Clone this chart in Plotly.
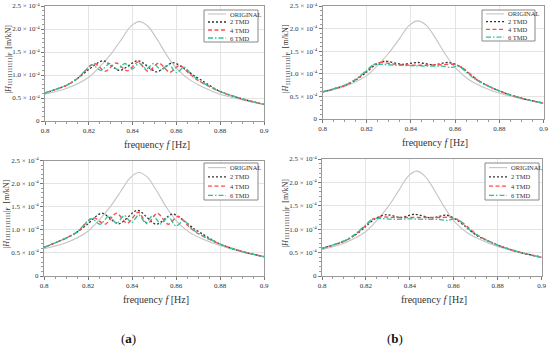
import plotly.graph_objects as go

# ---------------- data (response amplitude in units of 1e-4 m/kN) ----------------
SERIES_NAMES = ["ORIGINAL", "2 TMD", "4 TMD", "6 TMD"]
X_TICKS = [0.8, 0.82, 0.84, 0.86, 0.88, 0.9]
X_TICK_LABELS = ["0.8", "0.82", "0.84", "0.86", "0.88", "0.9"]
Y_TICKS = [0, 0.5, 1.0, 1.5, 2.0, 2.5]
Y_TICK_LABELS = ["0", "0.5 × 10<sup>-4</sup>", "1.0 × 10<sup>-4</sup>", "1.5 × 10<sup>-4</sup>",
                 "2.0 × 10<sup>-4</sup>", "2.5 × 10<sup>-4</sup>"]
PANEL_LABELS = ["(<b>a</b>)", "(<b>b</b>)"]

ORIG_F = [0.800, 0.810, 0.820, 0.825, 0.830, 0.835, 0.839, 0.843, 0.847, 0.851, 0.856, 0.861, 0.866, 0.872, 0.880, 0.890, 0.900]
ORIG_TL = [0.58, 0.71, 0.95, 1.18, 1.45, 1.78, 2.05, 2.16, 2.06, 1.79, 1.40, 1.10, 0.90, 0.74, 0.58, 0.46, 0.36]
ORIG_TR = [0.59, 0.72, 0.96, 1.19, 1.46, 1.79, 2.06, 2.17, 2.07, 1.80, 1.40, 1.09, 0.88, 0.72, 0.57, 0.45, 0.35]
ORIG_BL = [0.59, 0.72, 0.97, 1.21, 1.49, 1.84, 2.12, 2.24, 2.14, 1.86, 1.46, 1.15, 0.95, 0.80, 0.66, 0.52, 0.41]
ORIG_BR = [0.56, 0.70, 0.95, 1.19, 1.47, 1.83, 2.12, 2.24, 2.13, 1.85, 1.45, 1.13, 0.93, 0.78, 0.63, 0.50, 0.39]

# top-left
TMD2_TL_F = [0.800, 0.810, 0.815, 0.820, 0.8265, 0.834, 0.8425, 0.851, 0.8585, 0.864, 0.868, 0.872, 0.880, 0.890, 0.900]
TMD2_TL = [0.61, 0.78, 0.93, 1.12, 1.31, 1.10, 1.31, 1.07, 1.27, 1.12, 0.99, 0.87, 0.64, 0.48, 0.36]
TMD4_TL_F = [0.800, 0.810, 0.815, 0.8225, 0.8275, 0.8325, 0.8375, 0.8425, 0.847, 0.852, 0.857, 0.8615, 0.866, 0.870, 0.880, 0.890, 0.900]
TMD4_TL = [0.61, 0.78, 0.93, 1.25, 1.08, 1.26, 1.09, 1.28, 1.08, 1.26, 1.06, 1.21, 1.02, 0.88, 0.64, 0.48, 0.36]
TMD6_TL_F = [0.800, 0.810, 0.815, 0.8215, 0.8255, 0.8295, 0.833, 0.8365, 0.8398, 0.843, 0.8463, 0.8495, 0.853, 0.8565, 0.860, 0.8635, 0.867, 0.871, 0.880, 0.890, 0.900]
TMD6_TL = [0.61, 0.78, 0.93, 1.22, 1.10, 1.25, 1.12, 1.25, 1.13, 1.26, 1.13, 1.25, 1.11, 1.23, 1.05, 1.17, 1.00, 0.86, 0.64, 0.48, 0.36]

# top-right
TMD2_TR_F = [0.800, 0.810, 0.815, 0.820, 0.824, 0.828, 0.836, 0.843, 0.850, 0.857, 0.862, 0.866, 0.870, 0.880, 0.890, 0.900]
TMD2_TR = [0.60, 0.74, 0.86, 1.04, 1.20, 1.28, 1.21, 1.25, 1.20, 1.25, 1.17, 1.02, 0.86, 0.62, 0.46, 0.35]
TMD4_TR_F = [0.800, 0.810, 0.815, 0.820, 0.8235, 0.8265, 0.833, 0.840, 0.847, 0.854, 0.859, 0.863, 0.867, 0.871, 0.880, 0.890, 0.900]
TMD4_TR = [0.60, 0.74, 0.87, 1.06, 1.21, 1.25, 1.21, 1.19, 1.19, 1.20, 1.21, 1.14, 0.99, 0.84, 0.62, 0.46, 0.35]
TMD6_TR_F = [0.800, 0.810, 0.815, 0.820, 0.823, 0.826, 0.833, 0.840, 0.847, 0.854, 0.858, 0.8615, 0.865, 0.869, 0.880, 0.890, 0.900]
TMD6_TR = [0.60, 0.75, 0.88, 1.08, 1.20, 1.21, 1.19, 1.18, 1.17, 1.17, 1.14, 1.17, 1.04, 0.88, 0.62, 0.46, 0.35]

# bottom-left
TMD2_BL_F = [0.800, 0.810, 0.815, 0.820, 0.8262, 0.834, 0.8425, 0.851, 0.8585, 0.864, 0.868, 0.872, 0.880, 0.890, 0.900]
TMD2_BL = [0.62, 0.82, 0.95, 1.13, 1.36, 1.13, 1.42, 1.12, 1.34, 1.18, 1.03, 0.91, 0.69, 0.53, 0.42]
TMD4_BL_F = [0.800, 0.810, 0.815, 0.8225, 0.8277, 0.833, 0.8378, 0.8428, 0.847, 0.8515, 0.8565, 0.861, 0.866, 0.870, 0.880, 0.890, 0.900]
TMD4_BL = [0.62, 0.82, 0.95, 1.26, 1.12, 1.36, 1.14, 1.38, 1.13, 1.36, 1.12, 1.29, 1.06, 0.92, 0.69, 0.53, 0.42]
TMD6_BL_F = [0.800, 0.810, 0.815, 0.8215, 0.8255, 0.8295, 0.833, 0.8365, 0.8398, 0.843, 0.8463, 0.8495, 0.853, 0.8565, 0.860, 0.8635, 0.867, 0.871, 0.880, 0.890, 0.900]
TMD6_BL = [0.62, 0.82, 0.95, 1.24, 1.12, 1.30, 1.14, 1.31, 1.15, 1.32, 1.15, 1.31, 1.13, 1.28, 1.08, 1.20, 1.03, 0.90, 0.69, 0.53, 0.42]

# bottom-right
TMD2_BR_F = [0.800, 0.810, 0.815, 0.820, 0.824, 0.8293, 0.836, 0.8422, 0.850, 0.8567, 0.861, 0.865, 0.870, 0.880, 0.890, 0.900]
TMD2_BR = [0.59, 0.74, 0.87, 1.06, 1.22, 1.31, 1.25, 1.32, 1.24, 1.30, 1.21, 1.07, 0.88, 0.66, 0.51, 0.40]
TMD4_BR_F = [0.800, 0.810, 0.815, 0.820, 0.823, 0.8265, 0.833, 0.840, 0.847, 0.854, 0.859, 0.863, 0.867, 0.871, 0.880, 0.890, 0.900]
TMD4_BR = [0.59, 0.74, 0.88, 1.08, 1.21, 1.26, 1.25, 1.25, 1.25, 1.25, 1.25, 1.17, 1.02, 0.87, 0.66, 0.51, 0.40]
TMD6_BR_F = [0.800, 0.810, 0.815, 0.820, 0.823, 0.826, 0.833, 0.840, 0.847, 0.853, 0.857, 0.8615, 0.865, 0.869, 0.880, 0.890, 0.900]
TMD6_BR = [0.59, 0.75, 0.89, 1.10, 1.22, 1.23, 1.21, 1.22, 1.21, 1.21, 1.19, 1.22, 1.08, 0.92, 0.66, 0.51, 0.40]

# ---------------- layout / styling ----------------
W, H = 550, 349
SERIF = "Liberation Serif"
STYLES = [
    dict(color="#c4c4c4", width=1.1, dash="solid"),
    dict(color="#333333", width=1.3, dash="2px,2px"),
    dict(color="#ff4b4b", width=1.4, dash="4px,2.5px"),
    dict(color="#2ec29a", width=1.3, dash="5px,2px,1.5px,2px"),
]

# pixel boxes (left, right, top, bottom) of each plotting area
BOXES = [(45, 264, 6, 121), (322.5, 543.5, 6, 119), (44, 264, 160.5, 276), (322, 541.5, 159, 276)]
# legend boxes (left, right, top, bottom) in pixels
LEG_BOXES = [(204, 258, 10, 42), (482, 535, 10, 41), (204, 258, 163, 200), (485, 539, 163, 200)]
PANELS = [
    [(ORIG_F, ORIG_TL), (TMD2_TL_F, TMD2_TL), (TMD4_TL_F, TMD4_TL), (TMD6_TL_F, TMD6_TL)],
    [(ORIG_F, ORIG_TR), (TMD2_TR_F, TMD2_TR), (TMD4_TR_F, TMD4_TR), (TMD6_TR_F, TMD6_TR)],
    [(ORIG_F, ORIG_BL), (TMD2_BL_F, TMD2_BL), (TMD4_BL_F, TMD4_BL), (TMD6_BL_F, TMD6_BL)],
    [(ORIG_F, ORIG_BR), (TMD2_BR_F, TMD2_BR), (TMD4_BR_F, TMD4_BR), (TMD6_BR_F, TMD6_BR)],
]


def px(x):
    return x / W


def py(y):
    return 1 - y / H


fig = go.Figure()
layout = dict(width=W, height=H, margin=dict(l=0, r=0, t=0, b=0, autoexpand=False),
              paper_bgcolor="white", plot_bgcolor="white", showlegend=False,
              font=dict(family=SERIF, size=7, color="#333"))
annotations = []
shapes = []

for i, (box, lbox, series) in enumerate(zip(BOXES, LEG_BOXES, PANELS)):
    l, r, t, b = box
    sfx = "" if i == 0 else str(i + 1)
    xa, ya = "x" + sfx, "y" + sfx
    for name, (fx, fy), st in zip(SERIES_NAMES, series, STYLES):
        fig.add_trace(go.Scatter(x=fx, y=fy, mode="lines", name=name,
                                 line=dict(color=st["color"], width=st["width"], dash=st["dash"],
                                           shape="spline", smoothing=0.8),
                                 xaxis=xa, yaxis=ya))
    common = dict(showgrid=True, gridcolor="#e4e4e4", gridwidth=1, showline=True, mirror=True,
                  linecolor="#9a9a9a", linewidth=1, ticks="outside", ticklen=3, tickcolor="#777",
                  tickfont=dict(family=SERIF, size=7, color="#333"), zeroline=False, automargin=False)
    layout["xaxis" + sfx] = dict(common, domain=[px(l), px(r)], anchor=ya, range=[0.8, 0.9],
                                 tickvals=X_TICKS, ticktext=X_TICK_LABELS,
                                 minor=dict(ticks="outside", ticklen=2, dtick=0.005, tickcolor="#999"))
    layout["yaxis" + sfx] = dict(common, domain=[py(b), py(t)], anchor=xa, range=[0, 2.5],
                                 tickvals=Y_TICKS, ticktext=Y_TICK_LABELS,
                                 minor=dict(ticks="outside", ticklen=2, dtick=0.1, tickcolor="#999"))
    # axis titles
    annotations.append(dict(text="frequency <i>f</i> [Hz]", x=px((l + r) / 2 + 2), y=py(b + 23.5),
                            xref="paper", yref="paper", xanchor="center", yanchor="middle", showarrow=False,
                            font=dict(family=SERIF, size=10, color="#333")))
    annotations.append(dict(text="|<i>H</i><sub>11111111111</sub>|<sub>F</sub>  [m/kN]",
                            x=px(l - 37), y=py((t + b) / 2 - 4), textangle=-90,
                            xref="paper", yref="paper", xanchor="center", yanchor="middle", showarrow=False,
                            font=dict(family=SERIF, size=8, color="#333")))
    # hand-drawn compact legend box
    ll, lr, lt, lb = lbox
    shapes.append(dict(type="rect", xref="paper", yref="paper", x0=px(ll), x1=px(lr), y0=py(lb), y1=py(lt),
                       line=dict(color="#888", width=1), fillcolor="white", layer="above"))
    step = (lb - lt) / 4
    for k, (name, st) in enumerate(zip(SERIES_NAMES, STYLES)):
        yy = lt + step * (k + 0.5)
        shapes.append(dict(type="line", xref="paper", yref="paper", x0=px(ll + 4), x1=px(ll + 22),
                           y0=py(yy), y1=py(yy), layer="above",
                           line=dict(color=st["color"], width=st["width"], dash=st["dash"])))
        annotations.append(dict(text=name, x=px(ll + 24), y=py(yy), xref="paper", yref="paper",
                                xanchor="left", yanchor="middle", showarrow=False,
                                font=dict(family=SERIF, size=6.5, color="#333")))

for lab, xp in zip(PANEL_LABELS, [128, 395]):
    annotations.append(dict(text=lab, x=px(xp), y=py(338), xref="paper", yref="paper",
                            xanchor="center", yanchor="middle",
                            showarrow=False, font=dict(family=SERIF, size=13, color="#111")))

layout["annotations"] = annotations
layout["shapes"] = shapes
fig.update_layout(**layout)
fig.write_html("out.html", config={"displayModeBar": False},
               post_script="document.body.style.margin='0px';document.body.style.overflow='hidden';")
